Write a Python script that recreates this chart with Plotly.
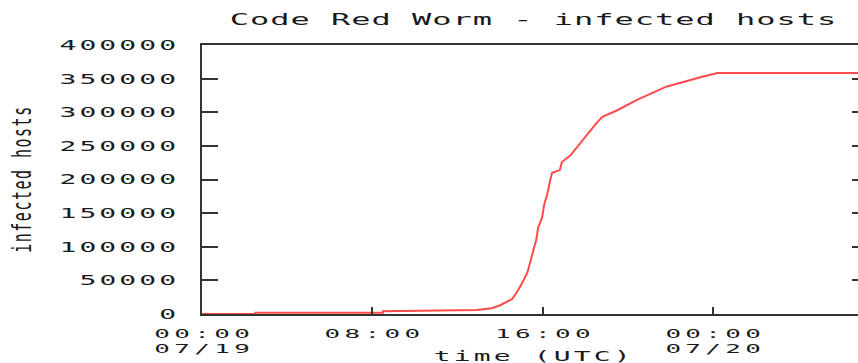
import pandas as pd
import plotly.graph_objects as go

# ---- data ----
hours = [0, 2.5, 2.5, 8.5, 8.5, 12.9, 13.6, 14.0, 14.55, 14.8, 15.03, 15.27, 15.4,
         15.55, 15.69, 15.78, 15.97, 16.06, 16.2, 16.35, 16.44, 16.8, 16.9, 17.3,
         17.6, 17.9, 18.2, 18.55, 18.8, 19.5, 20.4, 21.8, 23.4, 24.2, 31.5]
infected = [0, 0, 2000, 2000, 4000, 6000, 8500, 13000, 22000, 33000, 46000, 61000, 76000,
            92000, 110000, 128000, 144000, 162000, 177000, 199000, 210000, 214000, 226000, 236000,
            248000, 259000, 271000, 285000, 293000, 303000, 318000, 338000, 352000, 358500, 358500]

y_tickvals = [0, 50000, 100000, 150000, 200000, 250000, 300000, 350000, 400000]
y_ticktext = ["0", "50000", "100000", "150000", "200000", "250000", "300000", "350000", "400000"]
x_tickvals = ["2001-07-19 00:00", "2001-07-19 08:00", "2001-07-19 16:00", "2001-07-20 00:00"]
x_ticktext = ["00:00<br>07/19", "08:00", "16:00", "00:00<br>07/20"]
x_range = ["2001-07-19 00:00", "2001-07-20 06:48"]

title_text = "Code Red Worm - infected hosts"
x_title = "time (UTC)"
y_title = "infected hosts"

base = pd.Timestamp("2001-07-19")
times = [base + pd.Timedelta(hours=h) for h in hours]

AX = "#333333"
TXT = "#1a1a1a"
FONT = "DejaVu Sans Mono"

fig = go.Figure()
fig.add_trace(go.Scatter(x=times, y=infected, mode="lines",
                         line=dict(color="#ff4a4a", width=2), showlegend=False))
# helper trace so the right-side tick axis renders
fig.add_trace(go.Scatter(x=[times[0]], y=[0], yaxis="y2", mode="markers",
                         marker=dict(opacity=0), showlegend=False, hoverinfo="skip"))

fig.update_layout(
    width=858, height=363,
    margin=dict(l=202, r=0, t=45, b=49),
    paper_bgcolor="white", plot_bgcolor="white",
    font=dict(family=FONT, color=TXT, size=14),
    title=dict(text=title_text, x=533 / 858, xref="container", xanchor="center",
               y=1 - 19 / 363, yref="container", yanchor="middle",
               font=dict(family=FONT, size=16, color=TXT)),
    xaxis=dict(type="date", range=x_range, tickmode="array",
               tickvals=x_tickvals, ticktext=x_ticktext,
               ticks="inside", ticklen=7, tickwidth=2, tickcolor=AX,
               showline=True, linecolor=AX, linewidth=2, mirror=True,
               showgrid=False, zeroline=False,
               tickfont=dict(family=FONT, size=13, color=TXT),
               ticklabelstandoff=6),
    yaxis=dict(range=[0, 400000], tickmode="array",
               tickvals=y_tickvals, ticktext=y_ticktext,
               ticks="inside", ticklen=16, tickwidth=2, tickcolor=AX,
               showline=True, linecolor=AX, linewidth=2, mirror=False,
               showgrid=False, zeroline=False,
               tickfont=dict(family=FONT, size=14, color=TXT),
               ticklabelstandoff=21),
    yaxis2=dict(range=[0, 400000], overlaying="y", side="right", tickmode="array",
                tickvals=y_tickvals, ticks="inside", ticklen=6, tickwidth=2,
                tickcolor=AX, showticklabels=False, showline=False,
                showgrid=False, zeroline=False),
    annotations=[
        dict(text=x_title, xref="paper", yref="paper",
             x=(532 - 202) / 656, y=-(356 - 314) / 269,
             xanchor="center", yanchor="middle", showarrow=False,
             font=dict(family=FONT, size=14, color=TXT)),
        dict(text=y_title, xref="paper", yref="paper",
             x=(22 - 202) / 656, y=(314 - 180) / 269, textangle=-90,
             xanchor="center", yanchor="middle", showarrow=False,
             font=dict(family=FONT, size=15, color=TXT)),
    ],
)

# widen the glyphs like the stretched bitmap font of the reference
post = """
var gd = document.getElementById('{plot_id}');
function st(sel, sx, sy, ls){
  gd.querySelectorAll(sel).forEach(function(t){
    var x0 = parseFloat(t.getAttribute('x')) || 0;
    t.style.letterSpacing = ls + 'px';
    var a = t.getAttribute('text-anchor') || 'start';
    var sh = a === 'middle' ? ls / 2 : (a === 'end' ? ls : 0);
    [t].concat(Array.from(t.querySelectorAll('tspan'))).forEach(function(e){
      var x = e.getAttribute('x');
      if (x !== null && x !== '') { e.setAttribute('x', parseFloat(x) + sh); }
    });
    var tr = t.getAttribute('transform') || '';
    if (sx !== 1) {
      tr += ' translate(' + x0 + ',0) scale(' + sx + ',1) translate(' + (-x0) + ',0)';
    }
    if (sy !== 1) {
      var bb = t.getBBox();
      var cy = bb.y + bb.height / 2;
      tr += ' translate(0,' + cy + ') scale(1,' + sy + ') translate(0,' + (-cy) + ')';
    }
    t.setAttribute('transform', tr);
  });
}
gd.querySelectorAll('.xtick text tspan').forEach(function(e){
  var d = e.getAttribute('dy');
  if (d && parseFloat(d) > 0) { e.setAttribute('dy', '1.2em'); }
});
st('.xtick text', 2.0, 1, 2.17);
st('.ytick text', 2.0, 1, 1.57);
st('.gtitle', 2.0, 1, 0.5);
st('g.annotation[data-index="0"] text.annotation-text', 2.0, 1, 1.57);
st('g.annotation[data-index="1"] text.annotation-text', 1, 1.8, 1.5);
"""

fig.write_html("out.html", post_script=post)
